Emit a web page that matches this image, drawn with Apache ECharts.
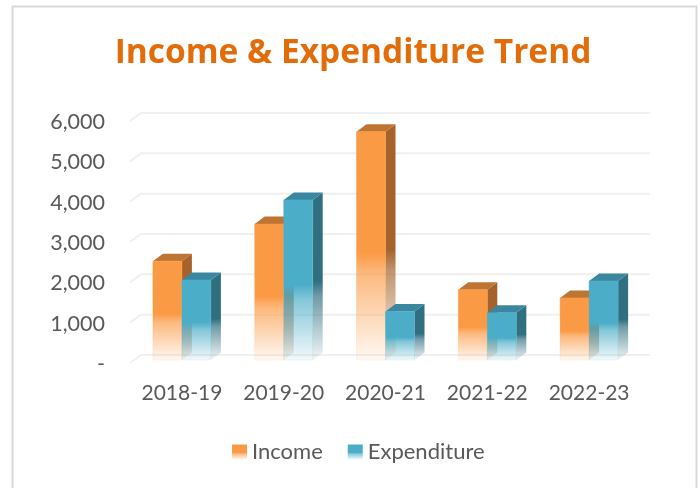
<!DOCTYPE html>
<html><head><meta charset="utf-8">
<style>html,body{margin:0;padding:0;background:#fff}#c{width:700px;height:488px}</style>
<script src="https://cdn.jsdelivr.net/npm/echarts@6/dist/echarts.min.js"></script>
</head><body><div id="c"></div>
<script>
const categories = ['2018-19','2019-20','2020-21','2021-22','2022-23'];
const income = [2450,3370,5660,1740,1540];
const expenditure = [1985,3970,1200,1170,1960];
const yTicks = [0,1000,2000,3000,4000,5000,6000];
const FONT = 'Lato, "Open Sans", sans-serif';
const DX = 10, DY = 7.5, SHIFT_X = -10, SHIFT_Y = 5, BAR = 0.285;

function fade(hex){
  return {type:'linear',x:0,y:0,x2:0,y2:1,colorStops:[
    {offset:0,color:hex+'ff'},{offset:0.53,color:hex+'ff'},
    {offset:0.62,color:hex+'b0'},{offset:1,color:hex+'10'}]};
}
function barSeries(name, values, idx, front, side, top){
  return {
    name, type:'custom', coordinateSystem:'cartesian2d', clip:false,
    itemStyle:{color:fade(front)},
    encode:{x:0,y:1}, z:3+idx,
    data: values.map((v,i)=>[i,v]),
    renderItem(params, api){
      const p = api.coord([api.value(0),api.value(1)]);
      const b = api.coord([api.value(0),0]);
      const w = api.size([1,0])[0]*BAR;
      const x0 = p[0]+SHIFT_X+(idx===0?-w:0), x1 = x0+w;
      const yt = p[1]+SHIFT_Y, yb = b[1]+SHIFT_Y;
      const sideFill = fade(side);
      return {type:'group',children:[
        {type:'polygon',shape:{points:[[x1,yt],[x1+DX,yt-DY],[x1+DX,yb-DY],[x1,yb]]},style:{fill:sideFill}},
        {type:'polygon',shape:{points:[[x0,yt],[x0+DX,yt-DY],[x1+DX,yt-DY],[x1,yt]]},style:{fill:top}},
        {type:'rect',shape:{x:x0,y:yt,width:w,height:yb-yt},style:{fill:fade(front),stroke:{type:'linear',x:0,y:0,x2:0,y2:1,colorStops:[{offset:0,color:front+'80'},{offset:1,color:front+'18'}]},lineWidth:1}}
      ]};
    }
  };
}
const gridSeries = {
  type:'custom', coordinateSystem:'cartesian2d', clip:false, silent:true, z:1,
  data: yTicks.map(v=>[0,v]), encode:{y:1}, legendHoverLink:false,
  renderItem(params, api){
    const p = api.coord([0,api.value(1)]);
    const cs = params.coordSys;
    const xl = cs.x, xr = cs.x+cs.width, y = p[1];
    return {type:'polyline',shape:{points:[[xl-11,y+8],[xl,y],[xr,y]]},style:{fill:null,stroke:'#F0F0F0',lineWidth:2}};
  }
};
const chart = echarts.init(document.getElementById('c'),null,{renderer:'canvas'});
chart.setOption({
  animation:false,
  backgroundColor:'#fff',
  title:{text:'Income & Expenditure Trend',left:348,top:31,textAlign:'center',
    textStyle:{color:'#E36C0A',fontFamily:'"Open Sans",sans-serif',fontWeight:'bold',fontSize:33.5}},
  graphic:[{type:'rect',z:-1,shape:{x:12.5,y:6.5,width:684,height:490},style:{fill:'none',stroke:'#D9D9D9',lineWidth:2}}],
  grid:{left:141,right:50,top:113,height:242,containLabel:false},
  legend:{left:227,top:436,itemWidth:15,itemHeight:15,itemGap:25,icon:'rect',
    data:['Income','Expenditure'],
    textStyle:{color:'#595959',fontFamily:FONT,fontSize:22}},
  xAxis:{type:'category',data:categories,axisLine:{show:false},axisTick:{show:false},splitLine:{show:false},
    axisLabel:{color:'#595959',fontFamily:FONT,fontSize:21,margin:28,padding:[0,20,0,0],interval:0,hideOverlap:false}},
  yAxis:{type:'value',min:0,max:6000,interval:1000,axisLine:{show:false},axisTick:{show:false},splitLine:{show:false},
    axisLabel:{color:'#595959',fontFamily:FONT,fontSize:21.5,margin:36,verticalAlign:'top',lineHeight:18,
      formatter:v=>v===0?'-':v.toLocaleString('en-US')}},
  series:[gridSeries,
    barSeries('Income',income,0,'#FB9A45','#A5632B','#BE7433'),
    barSeries('Expenditure',expenditure,1,'#4BADC8','#306F80','#3A879F')]
});
</script></body></html>
